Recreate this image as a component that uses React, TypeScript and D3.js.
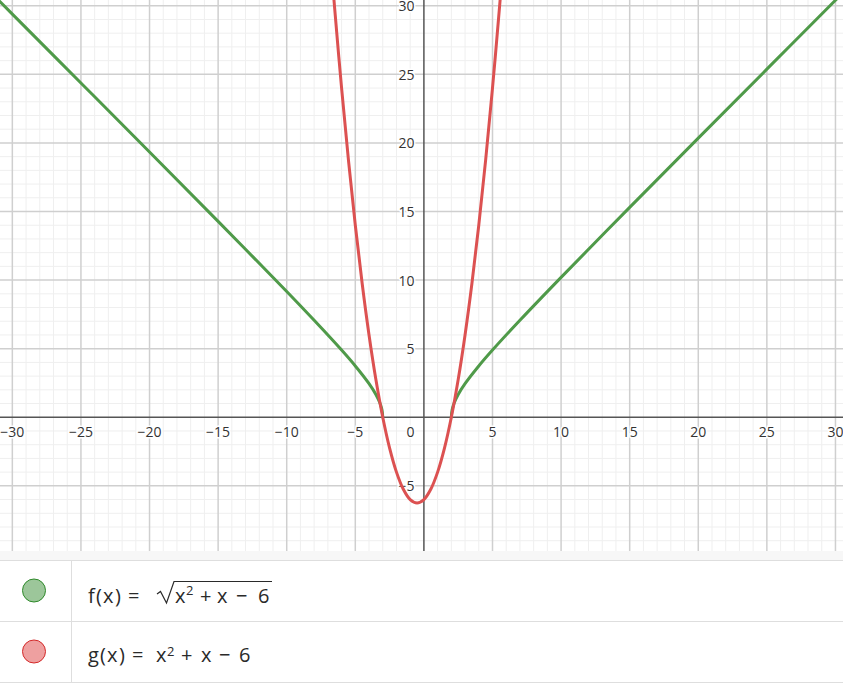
import React, { useEffect, useRef } from 'react';
import * as d3 from 'd3';

// f(x) = sqrt(x^2 + x - 6) (two branches)
const fLeftX = [-31, -30, -25, -20, -15, -10, -8, -6, -5, -4, -3.5, -3.2, -3.05, -3];
const fLeftY = [30.4, 29.39, 24.37, 19.34, 14.28, 9.17, 7.07, 4.9, 3.74, 2.45, 1.66, 1.02, 0.5, 0];
const fRightX = [2, 2.05, 2.2, 2.5, 3, 4, 5, 7, 10, 15, 20, 25, 30, 31];
const fRightY = [0, 0.5, 1.02, 1.66, 2.45, 3.74, 4.9, 7.07, 10.2, 15.3, 20.35, 25.38, 30.4, 31.4];

// g(x) = x^2 + x - 6
const gX = [-6.8, -6.5, -6, -5.5, -5, -4.5, -4, -3.5, -3, -2.5, -2, -1.5, -1, -0.5, 0, 0.5, 1, 1.5, 2, 2.5, 3, 3.5, 4, 4.5, 5, 5.5, 5.8];
const gY = [33.44, 29.75, 24, 18.75, 14, 9.75, 6, 2.75, 0, -2.25, -4, -5.25, -6, -6.25, -6, -5.25, -4, -2.25, 0, 2.75, 6, 9.75, 14, 18.75, 24, 29.75, 33.44];

const xTicks = [-30, -25, -20, -15, -10, -5, 5, 10, 15, 20, 25, 30];
const yTicks = [-5, 5, 10, 15, 20, 25, 30];

const W = 843;
const H = 683;
const plotH = 551;

function App() {
  const svgRef = useRef(null);

  useEffect(() => {
    const svg = d3.select(svgRef.current);
    svg.selectAll('*').remove();

    const x = d3.scaleLinear().domain([-30.9, 30.55]).range([0, W]);
    const y = d3.scaleLinear().domain([-9.75, 30.42]).range([plotH, 0]);
    const x0 = x(0);
    const y0 = y(0);

    svg.append('rect').attr('width', W).attr('height', H).attr('fill', '#fff');

    svg.append('defs').append('clipPath').attr('id', 'plotclip')
      .append('rect').attr('width', W).attr('height', plotH);

    const plot = svg.append('g').attr('clip-path', 'url(#plotclip)');

    // minor grid, every unit
    const minorX = d3.range(-31, 32).filter(v => v % 5 !== 0);
    const minorY = d3.range(-10, 31).filter(v => v % 5 !== 0);
    plot.append('g').selectAll('line').data(minorX).join('line')
      .attr('x1', d => x(d)).attr('x2', d => x(d)).attr('y1', 0).attr('y2', plotH)
      .attr('stroke', '#efefef').attr('stroke-width', 1);
    plot.append('g').selectAll('line').data(minorY).join('line')
      .attr('y1', d => y(d)).attr('y2', d => y(d)).attr('x1', 0).attr('x2', W)
      .attr('stroke', '#efefef').attr('stroke-width', 1);

    // major grid, every 5
    const majorX = d3.range(-30, 31, 5).filter(v => v !== 0);
    const majorY = d3.range(-5, 31, 5).filter(v => v !== 0);
    plot.append('g').selectAll('line').data(majorX).join('line')
      .attr('x1', d => x(d)).attr('x2', d => x(d)).attr('y1', 0).attr('y2', plotH)
      .attr('stroke', '#cfcfcf').attr('stroke-width', 1.5);
    plot.append('g').selectAll('line').data(majorY).join('line')
      .attr('y1', d => y(d)).attr('y2', d => y(d)).attr('x1', 0).attr('x2', W)
      .attr('stroke', '#cfcfcf').attr('stroke-width', 1.5);

    // axes
    plot.append('line').attr('x1', 0).attr('x2', W).attr('y1', y0).attr('y2', y0)
      .attr('stroke', '#555').attr('stroke-width', 1.5);
    plot.append('line').attr('x1', x0).attr('x2', x0).attr('y1', 0).attr('y2', plotH)
      .attr('stroke', '#555').attr('stroke-width', 1.5);

    // tick labels (white halo like GeoGebra)
    const labelStyle = sel => sel
      .attr('font-family', '"Open Sans", sans-serif')
      .attr('font-size', 14)
      .attr('fill', '#333')
      .attr('stroke', '#fff')
      .attr('stroke-width', 3)
      .attr('paint-order', 'stroke');

    plot.append('g').selectAll('text').data(xTicks).join('text')
      .attr('x', d => x(d)).attr('y', y0 + 20)
      .attr('text-anchor', 'middle')
      .call(labelStyle)
      .text(d => (d < 0 ? '\u2212' + Math.abs(d) : String(d)));

    plot.append('g').selectAll('text').data(yTicks).join('text')
      .attr('x', x0 - 9.5).attr('y', d => y(d) + 5.5)
      .attr('text-anchor', 'end')
      .call(labelStyle)
      .text(d => (d < 0 ? '\u2212' + Math.abs(d) : String(d)));

    plot.append('text').attr('x', x0 - 9.5).attr('y', y0 + 20)
      .attr('text-anchor', 'end').call(labelStyle).text('0');

    // curves
    const line = d3.line()
      .x(d => x(d[0]))
      .y(d => y(d[1]))
      .curve(d3.curveCatmullRom.alpha(0.5));

    const green = '#4f9a49';
    const red = '#dc5151';

    plot.append('path')
      .datum(fLeftX.map((v, i) => [v, fLeftY[i]]))
      .attr('d', line).attr('fill', 'none').attr('stroke', green)
      .attr('stroke-width', 3).attr('stroke-linecap', 'round');
    plot.append('path')
      .datum(fRightX.map((v, i) => [v, fRightY[i]]))
      .attr('d', line).attr('fill', 'none').attr('stroke', green)
      .attr('stroke-width', 3).attr('stroke-linecap', 'round');
    plot.append('path')
      .datum(gX.map((v, i) => [v, gY[i]]))
      .attr('d', line).attr('fill', 'none').attr('stroke', red)
      .attr('stroke-width', 3).attr('stroke-linecap', 'round');

    // --- algebra panel below the graph ---
    svg.append('rect').attr('x', 0).attr('y', plotH).attr('width', W).attr('height', 9)
      .attr('fill', '#f7f7f7');
    const panelLines = [560.5, 621.5, 682.5];
    svg.append('g').selectAll('line').data(panelLines).join('line')
      .attr('x1', 0).attr('x2', W).attr('y1', d => d).attr('y2', d => d)
      .attr('stroke', '#dedede').attr('stroke-width', 1);
    svg.append('line').attr('x1', 71.5).attr('x2', 71.5).attr('y1', 561).attr('y2', H)
      .attr('stroke', '#dedede').attr('stroke-width', 1);

    svg.append('circle').attr('cx', 34).attr('cy', 590.5).attr('r', 11.5)
      .attr('fill', '#9cc69a').attr('stroke', '#2f8a2b').attr('stroke-width', 1);
    svg.append('circle').attr('cx', 34).attr('cy', 651.5).attr('r', 11.5)
      .attr('fill', '#eea0a0').attr('stroke', '#d42a2a').attr('stroke-width', 1);

    const txt = (g, str, tx, ty, size = 20) => g.append('text')
      .attr('x', tx).attr('y', ty)
      .attr('font-family', '"Open Sans", sans-serif')
      .attr('font-size', size)
      .attr('fill', '#2a2a2a')
      .text(str);

    const row1 = svg.append('g');
    txt(row1, 'f', 88, 603);
    txt(row1, '(', 96, 603);
    txt(row1, 'x', 103, 603);
    txt(row1, ')', 115, 603);
    txt(row1, '=', 128, 603);
    row1.append('path')
      .attr('d', 'M157,594 L160.5,591.5 L166.5,603 L174,581.5 L272,581.5')
      .attr('fill', 'none').attr('stroke', '#2a2a2a').attr('stroke-width', 1.2);
    txt(row1, 'x', 175, 603);
    txt(row1, '2', 186, 595, 13);
    txt(row1, '+', 200, 603);
    txt(row1, 'x', 217, 603);
    txt(row1, '\u2212', 236, 603);
    txt(row1, '6', 258, 603);

    const row2 = svg.append('g');
    txt(row2, 'g', 88, 662);
    txt(row2, '(', 100, 662);
    txt(row2, 'x', 107, 662);
    txt(row2, ')', 119, 662);
    txt(row2, '=', 132, 662);
    txt(row2, 'x', 156, 662);
    txt(row2, '2', 167, 656, 13);
    txt(row2, '+', 181, 662);
    txt(row2, 'x', 201, 662);
    txt(row2, '\u2212', 219, 662);
    txt(row2, '6', 239, 662);
  }, []);

  return (
    <svg
      ref={svgRef}
      width={W}
      height={H}
      style={{ position: 'absolute', left: 0, top: 0, display: 'block' }}
    ></svg>
  );
}

export default App;
